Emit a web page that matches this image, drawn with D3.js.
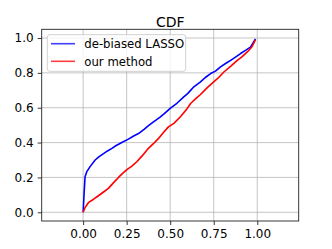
<!DOCTYPE html>
<html>
<head>
<meta charset="utf-8">
<script src="https://cdn.jsdelivr.net/npm/d3@7"></script>
<style>
  body { margin: 0; background: #fff; }
  svg { display: block; font-family: "DejaVu Sans", sans-serif; }
</style>
</head>
<body>
<svg id="chart" width="332" height="249"></svg>
<script>
// data
const xTicks = [0, 0.25, 0.5, 0.75, 1.0]
const yTicks = [0, 0.2, 0.4, 0.6, 0.8, 1.0]

const lassoX = [0, 0.005, 0.011, 0.021, 0.04, 0.069, 0.09, 0.117, 0.14, 0.165, 0.19, 0.222, 0.26, 0.29, 0.318, 0.35, 0.375, 0.404, 0.44, 0.463, 0.5, 0.54, 0.578, 0.6, 0.636, 0.674, 0.70, 0.732, 0.76, 0.789, 0.82, 0.847, 0.875, 0.904, 0.93, 0.961, 0.99]
const lassoY = [0, 0.10, 0.204, 0.233, 0.262, 0.3, 0.318, 0.337, 0.352, 0.367, 0.383, 0.4, 0.42, 0.438, 0.452, 0.476, 0.497, 0.519, 0.545, 0.563, 0.596, 0.627, 0.662, 0.681, 0.72, 0.748, 0.772, 0.796, 0.81, 0.834, 0.855, 0.872, 0.89, 0.911, 0.928, 0.948, 0.995]

const oursX = [0, 0.01, 0.03, 0.06, 0.088, 0.115, 0.145, 0.175, 0.203, 0.225, 0.251, 0.28, 0.308, 0.34, 0.375, 0.405, 0.433, 0.46, 0.49, 0.521, 0.56, 0.598, 0.617, 0.65, 0.674, 0.713, 0.75, 0.78, 0.808, 0.85, 0.885, 0.91, 0.943, 0.97, 0.99]
const oursY = [0, 0.025, 0.055, 0.075, 0.095, 0.115, 0.137, 0.17, 0.2, 0.222, 0.245, 0.265, 0.29, 0.325, 0.367, 0.395, 0.424, 0.456, 0.49, 0.51, 0.55, 0.596, 0.624, 0.655, 0.676, 0.715, 0.748, 0.775, 0.805, 0.84, 0.872, 0.89, 0.92, 0.95, 0.99]

const series = [
    { name: "de-biased LASSO", color: "blue", x: lassoX, y: lassoY },
    { name: "our method", color: "red", x: oursX, y: oursY }
]

// layout
const mLeft = 41.7, mRight = 298.7, mTop = 29.3, mBottom = 221
const fs = 12

const svg = d3.select("#chart")

const x = d3.scaleLinear().domain([-0.238, 1.238]).range([mLeft, mRight])
const y = d3.scaleLinear().domain([-0.05, 1.05]).range([mBottom, mTop])

// grid
svg.append("g").selectAll("line").data(xTicks).join("line")
    .attr("x1", d => x(d)).attr("x2", d => x(d))
    .attr("y1", mTop).attr("y2", mBottom)
    .attr("stroke", "#b0b0b0").attr("stroke-width", 0.9).attr("opacity", 0.8)
svg.append("g").selectAll("line").data(yTicks).join("line")
    .attr("y1", d => y(d)).attr("y2", d => y(d))
    .attr("x1", mLeft).attr("x2", mRight)
    .attr("stroke", "#b0b0b0").attr("stroke-width", 0.9).attr("opacity", 0.8)

// axes
const xAxis = svg.append("g")
    .attr("transform", `translate(0,${mBottom})`)
    .call(d3.axisBottom(x).tickValues(xTicks).tickFormat(d3.format(".2f")).tickSize(4).tickPadding(4))
const yAxis = svg.append("g")
    .attr("transform", `translate(${mLeft},0)`)
    .call(d3.axisLeft(y).tickValues(yTicks).tickFormat(d3.format(".1f")).tickSize(4).tickPadding(4))

for (const ax of [xAxis, yAxis]) {
    ax.select(".domain").remove()
    ax.selectAll("line").attr("stroke", "#222").attr("stroke-width", 0.9)
    ax.selectAll("text").attr("fill", "#000").style("font-size", fs + "px")
        .style("font-family", "DejaVu Sans, sans-serif")
}

// lines
const line = d3.line().x(d => x(d[0])).y(d => y(d[1]))
series.forEach(s => {
    svg.append("path")
        .datum(s.x.map((v, i) => [v, s.y[i]]))
        .attr("d", line)
        .attr("fill", "none")
        .attr("stroke", s.color)
        .attr("stroke-width", 1.6)
        .attr("stroke-linejoin", "round")
})

// frame
svg.append("rect")
    .attr("x", mLeft).attr("y", mTop)
    .attr("width", mRight - mLeft).attr("height", mBottom - mTop)
    .attr("fill", "none").attr("stroke", "#222").attr("stroke-width", 0.9)

// title
svg.append("text")
    .attr("x", (mLeft + mRight) / 2).attr("y", 26.5)
    .attr("text-anchor", "middle")
    .style("font-size", "14px")
    .text("CDF")

// legend
const leg = svg.append("g")
leg.append("rect")
    .attr("x", 47.3).attr("y", 34.7).attr("width", 138.4).attr("height", 36.6)
    .attr("rx", 2.5)
    .attr("fill", "#fff").attr("fill-opacity", 0.8)
    .attr("stroke", "#ccc").attr("stroke-width", 0.9)
series.forEach((s, i) => {
    const ly = 43.7 + i * 17.6
    leg.append("line")
        .attr("x1", 51).attr("x2", 75).attr("y1", ly).attr("y2", ly)
        .attr("stroke", s.color).attr("stroke-width", 1.6).attr("opacity", 0.75)
    leg.append("text")
        .attr("x", 84.3).attr("y", ly).attr("dy", "0.36em")
        .style("font-size", "11.7px")
        .text(s.name)
})
</script>
</body>
</html>
